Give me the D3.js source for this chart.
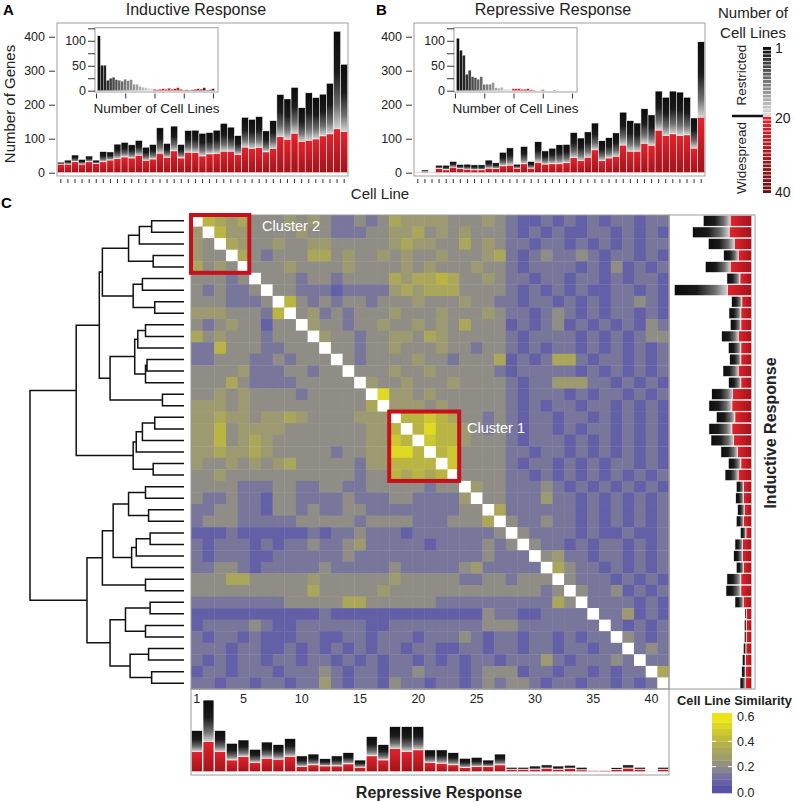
<!DOCTYPE html>
<html><head><meta charset="utf-8">
<script src="https://cdn.jsdelivr.net/npm/d3@7"></script>
<style>body{margin:0;background:#fff}</style>
</head><body>
<script>
// ---------------- DATA ----------------
const cellLines = d3.range(1, 42);
// Panel A (inductive), sorted cell lines: total genes and widespread (red) part
const indTotal = [31,37,52,39,49,37,62,61,84,89,82,95,75,83,132,86,137,83,124,125,116,118,125,145,134,109,163,157,165,123,153,230,217,251,191,235,221,231,263,416,319];
const indWide  = [25,25,32,25,32,27,32,37,41,46,43,51,36,40,57,45,64,43,60,59,49,55,56,63,63,53,75,71,74,61,71,106,98,116,92,95,99,108,114,129,121];
// Panel B (repressive)
const repTotal = [2,8,2,22,22,33,24,25,23,23,37,29,60,73,25,77,33,91,64,72,82,83,118,102,120,146,94,103,117,178,153,146,188,170,240,222,240,237,222,161,385];
const repWide  = [1,2,1,12,8,16,12,10,8,8,13,12,20,22,13,26,13,30,25,26,26,29,44,35,45,67,35,43,48,81,63,63,86,80,125,109,114,109,111,72,163];
// Insets: number of genes by number of cell lines (1..40)
const indHist = [110,51,51,21,25,27,22,21,19,23,20,22,13,13,9,7,6,5,5,3,2,3,4,3,5,3,4,6,3,1,2,1,2,3,4,3,6,1,2,4];
const repHist = [105,81,71,33,41,28,26,23,28,13,13,13,16,6,5,7,3,3,3,4,4,4,3,3,4,2,1,0,0,2,0,0,0,1,0,0,0,0,0,0];
// Panel C side bars (clustered order)
const rowIndTotal = [258,315,231,149,247,132,412,107,121,114,160,124,117,153,123,213,228,188,228,217,164,124,142,82,85,75,82,60,89,96,82,132,137,89,36,39,39,44,50,53,62];
const rowIndWide  = [114,119,92,71,114,62,128,52,57,57,71,57,57,71,57,101,105,89,105,96,75,57,71,43,43,39,43,30,48,48,43,57,57,44,28,28,28,30,32,32,34];
const colRepTotal = [219,382,219,151,169,119,158,144,176,84,94,69,84,101,62,187,144,240,240,240,116,116,101,71,76,62,94,23,23,30,36,30,34,23,5,9,21,36,23,2,23];
const colRepWide  = [107,160,107,62,80,48,71,66,80,27,36,30,30,41,23,84,62,123,107,116,48,44,36,21,27,27,36,12,12,12,18,12,16,9,3,5,11,18,12,1,12];
// ticks
const mainTicks = [0,100,200,300,400];
const insetTicks = [0,25,50,75,100,125];
const insetLabels = [0,50,100];
const insetXTicks = [0,10,20,30,40];
const colTickLabels = [1,5,10,15,20,25,30,35,40];
const simTicks = [0.0,0.2,0.4,0.6];
const legendLabels = [1,20,40];
// Similarity matrix, digit d => d/15. Upper triangle: row i, cols i+1..41
const simUpper = [
"65453 33434 32232 35444 43334 32112 12121 22122",
"64433 33433 22233 44534 34333 21212 11221 2121",
"54334 33443 33334 54433 53432 21221 21212 122",
"53233 35534 33434 33433 34521 23223 21221 21",
"33343 33343 33343 43334 33212 22212 13121 2",
"33323 32333 35455 65334 32212 21221 21221",
"33222 12222 45455 53333 21212 12112 2121",
"63232 33233 34333 43322 12212 12122 321",
"34232 33343 33433 34322 12321 21221 21",
"43323 34334 34353 33121 23121 21213 2",
"43323 34435 43333 32122 22121 21233",
"33233 43334 33233 21212 21212 1212",
"32333 34332 33351 21255 21221 212",
"33343 34333 33212 22221 21212 12",
"43343 33433 33212 24442 21212 1",
"84434 33333 32122 21212 21212",
"44434 33333 21212 21221 2121",
"66765 33232 12212 21212 121",
"68664 32321 22121 22121 21",
"76643 33212 22121 21212 1",
"67333 32212 21212 12121",
"73333 21221 21212 2121",
"33332 21212 12121 212",
"43322 23212 12121 21",
"33222 42212 12121 2",
"52222 22121 21212",
"32232 21212 1212",
"32222 12112 112",
"32212 12212 12",
"34221 22121 2",
"53221 21212",
"32221 2121",
"32231 212",
"22221 21",
"22412 1",
"21212",
"3212",
"232",
"22",
"5"
].map(s => s.replace(/ /g, ''));
// Lower triangle: row i (2..41), cols 1..i-1
const simLower = [
"4",
"43",
"433",
"5343",
"33323",
"32322 3",
"33322 23",
"44433 326",
"32343 3133",
"53433 32333",
"22633 32233 3",
"22333 22323 33",
"33334 22233 233",
"33353 22223 3333",
"33434 33332 33333",
"44434 33333 33333 5",
"44544 34454 33334 44",
"44634 44433 33333 446",
"44634 54333 33333 4476",
"44544 54333 33233 44886",
"43343 43453 33332 44666 6",
"33433 33333 33332 33656 56",
"33332 22332 23322 33333 233",
"32232 21332 22232 22332 2224",
"22332 21332 32233 22222 22233",
"23332 22223 33332 33332 22333 5",
"11121 11111 21223 22212 22222 23",
"21222 12122 32234 22222 12222 323",
"21222 11222 22232 22222 22222 3222",
"22332 12222 23222 22322 22234 22222",
"33355 33333 43333 33433 33322 33233 3",
"33333 33333 53333 34333 33333 33333 23",
"22222 22233 33355 33333 32222 22222 253",
"11111 11111 12111 11111 11111 32211 2222",
"12222 32112 22222 11222 22222 33322 22222",
"21221 21112 21122 12221 22232 12212 21212 2",
"22212 21121 21212 12212 21122 12212 21221 22",
"21212 21221 22121 21221 21212 21222 42122 232",
"12212 22122 23212 21223 22212 33312 21221 2122",
"22122 12212 24212 21322 12212 32332 12212 21212"
].map(s => s.replace(/ /g, ''));
// Dendrogram: [height, left, right], leaves = row numbers
const tree = [1.00,
 [0.70,
  [0.55,
   [0.53,
    [0.36, [0.29, [0.21, 1, 2], 3], [0.20, 4, 5]],
    [0.33, [0.27, 6, 7], [0.19, 8, 9]]],
   [0.48,
    [0.32, [0.30, [0.25, 10, 11], 12], [0.25, [0.24, 13, 14], 15]],
    [0.14, 16, 17]]],
  [0.33, [0.31, [0.27, [0.19, 18, 19], 20], 21], [0.20, 22, 23]]],
 [0.63,
  [0.53,
   [0.46,
    [0.36, [0.25, 24, 25], [0.23, 26, 27]],
    [0.34, [0.31, [0.22, 28, 29], 30], 31]],
   [0.25, 32, 33]],
  [0.48,
   [0.38, [0.22, 34, 35], [0.25, 36, 37]],
   [0.35, [0.23, 38, 39], [0.21, 40, 41]]]]];
const clusters = [{name: "Cluster 2", from: 1, to: 5}, {name: "Cluster 1", from: 18, to: 23}];

// ---------------- DRAWING ----------------
const FONT = '"Liberation Sans", Arial, Helvetica, sans-serif';
const svg = d3.select('body').append('svg').attr('width', 795).attr('height', 802)
  .style('font-family', FONT);
const defs = svg.append('defs');
function grad(id, horiz, stops) {
  const g = defs.append('linearGradient').attr('id', id)
    .attr('x1', 0).attr('y1', 0).attr('x2', horiz ? 1 : 0).attr('y2', horiz ? 0 : 1);
  stops.forEach(([o, c]) => g.append('stop').attr('offset', o).attr('stop-color', c));
}
const greyStops = [[0, '#0c0c0c'], [0.42, '#1b1b1b'], [0.76, '#6e6e6e'], [1, '#d6d6d6']];
const redStops = [[0, '#e2232c'], [1, '#a2131b']];
grad('gV', false, greyStops); grad('rV', false, redStops);
grad('gH', true, greyStops); grad('rH', true, redStops);

function lineColor(n) {
  return n <= 19 ? d3.interpolateRgb('#101010', '#d9d9d9')((n - 1) / 18)
                 : d3.interpolateRgb('#e4202a', '#6a0f10')((n - 20) / 20);
}
function styleAxis(g, size) {
  g.attr('font-size', null).attr('font-family', null);
  g.select('.domain').remove();
  g.selectAll('line').attr('stroke', '#333');
  g.selectAll('text').attr('font-size', size).attr('fill', '#222');
}

function mainPanel(left, totals, wides, hist, insetLeft, title) {
  const g = svg.append('g');
  const x = d3.scaleBand().domain(cellLines).range([left + 0.3, left + 290.7]);
  const y = d3.scaleLinear().domain([0, 400]).range([172.7, 36.7]);
  cellLines.forEach((c, i) => {
    g.append('rect').attr('x', x(c)).attr('y', y(totals[i])).attr('width', x.bandwidth())
      .attr('height', Math.max(0, y(wides[i]) - y(totals[i]))).attr('fill', 'url(#gV)')
      .attr('stroke', '#fff').attr('stroke-width', 0.5);
    g.append('rect').attr('x', x(c)).attr('y', y(wides[i])).attr('width', x.bandwidth())
      .attr('height', y(0) - y(wides[i])).attr('fill', 'url(#rV)')
      .attr('stroke', '#fff').attr('stroke-width', 0.5);
  });
  g.append('rect').attr('x', left).attr('y', 23).attr('width', 291).attr('height', 153)
    .attr('fill', 'none').attr('stroke', '#a0a0a0');
  const ya = g.append('g').attr('transform', `translate(${left - 2},0)`)
    .call(d3.axisLeft(y).tickValues(mainTicks).tickSize(6).tickPadding(4));
  styleAxis(ya, 12.5);
  const xa = g.append('g').attr('transform', 'translate(0,179)')
    .call(d3.axisBottom(x).tickSize(4).tickFormat(''));
  styleAxis(xa, 10);

  // inset
  const ix = d3.scaleLinear().domain([0, 40]).range([insetLeft + 1, insetLeft + 118]);
  const iy = d3.scaleLinear().domain([0, 125]).range([90.7, 28.3]);
  g.append('rect').attr('x', insetLeft).attr('y', 27.7).attr('width', 123).attr('height', 64.3)
    .attr('fill', '#fff').attr('stroke', '#a0a0a0');
  const bw = ix(1) - ix(0);
  hist.forEach((v, i) => {
    const n = i + 1;
    g.append('rect').attr('x', ix(n) - bw / 2).attr('y', iy(v)).attr('width', bw)
      .attr('height', iy(0) - iy(v)).attr('fill', lineColor(n))
      .attr('stroke', '#fff').attr('stroke-width', 0.3);
  });
  const iya = g.append('g').attr('transform', `translate(${insetLeft},0)`)
    .call(d3.axisLeft(iy).tickValues(insetTicks).tickSize(7).tickPadding(2)
      .tickFormat(v => insetLabels.includes(v) ? v : ''));
  styleAxis(iya, 12.5);
  const ixa = g.append('g').attr('transform', 'translate(0,93.5)')
    .call(d3.axisBottom(ix).tickValues(insetXTicks).tickSize(5).tickFormat(''));
  styleAxis(ixa, 10);
  g.append('text').attr('x', insetLeft + 61.5).attr('y', 112.5).attr('text-anchor', 'middle')
    .attr('font-size', 13.5).attr('fill', '#222').text('Number of Cell Lines');
  g.append('text').attr('x', left + 139).attr('y', 15).attr('text-anchor', 'middle')
    .attr('font-size', 16).attr('fill', '#222').text(title);
}
mainPanel(57, indTotal, indWide, indHist, 95, 'Inductive Response');
mainPanel(414, repTotal, repWide, repHist, 454, 'Repressive Response');
svg.append('text').attr('x', 3).attr('y', 15).attr('font-size', 15).attr('font-weight', 'bold').text('A');
svg.append('text').attr('x', 376).attr('y', 15).attr('font-size', 15).attr('font-weight', 'bold').text('B');
svg.append('text').attr('x', 1).attr('y', 208).attr('font-size', 15).attr('font-weight', 'bold').text('C');
svg.append('text').attr('transform', 'translate(15,104) rotate(-90)').attr('text-anchor', 'middle')
  .attr('font-size', 15).attr('fill', '#222').text('Number of Genes');
svg.append('text').attr('x', 380).attr('y', 199).attr('text-anchor', 'middle')
  .attr('font-size', 15).attr('fill', '#222').text('Cell Line');

// legend: number of cell lines
const ly = d3.scaleBand().domain(d3.range(1, 41)).range([47, 193]).paddingInner(0.22);
d3.range(1, 41).forEach(n => {
  svg.append('rect').attr('x', 763).attr('y', ly(n)).attr('width', 8).attr('height', ly.bandwidth())
    .attr('fill', lineColor(n));
});
legendLabels.forEach(n => svg.append('text').attr('x', 775).attr('y', ly(n) + ly.bandwidth() / 2)
  .attr('dy', '0.36em').attr('font-size', 14).attr('fill', '#222').text(n));
svg.append('line').attr('x1', 732).attr('x2', 763).attr('y1', 116).attr('y2', 116)
  .attr('stroke', '#111').attr('stroke-width', 2.5);
svg.append('text').attr('x', 753).attr('y', 18).attr('text-anchor', 'middle').attr('font-size', 15)
  .attr('fill', '#222').text('Number of');
svg.append('text').attr('x', 753).attr('y', 38).attr('text-anchor', 'middle').attr('font-size', 15)
  .attr('fill', '#222').text('Cell Lines');
svg.append('text').attr('transform', 'translate(745.5,75) rotate(-90)').attr('text-anchor', 'middle')
  .attr('font-size', 13.5).attr('fill', '#222').text('Restricted');
svg.append('text').attr('transform', 'translate(745.5,158) rotate(-90)').attr('text-anchor', 'middle')
  .attr('font-size', 13.5).attr('fill', '#222').text('Widespread');

// ---------------- PANEL C ----------------
const hx = d3.scaleBand().domain(cellLines).range([191, 669]);
const hy = d3.scaleBand().domain(cellLines).range([215, 689]);
const simColor = d3.scaleLinear().domain([0, 0.1, 0.2, 0.3, 0.4, 0.5, 0.6])
  .range(['#514bab', '#6d6aa6', '#8f8d86', '#a4a166', '#bab443', '#d6d02a', '#f2ea12']).clamp(true);
function sim(i, j) {
  if (i < j) return +simUpper[i - 1][j - i - 1] / 15;
  return +simLower[i - 2][j - 1] / 15;
}
const hm = svg.append('g');
cellLines.forEach(i => cellLines.forEach(j => {
  hm.append('rect').attr('x', hx(j)).attr('y', hy(i))
    .attr('width', hx.bandwidth() + 0.4).attr('height', hy.bandwidth() + 0.4)
    .attr('fill', i === j ? '#fff' : simColor(sim(i, j)));
}));
hm.append('rect').attr('x', 191).attr('y', 215).attr('width', 478).attr('height', 474)
  .attr('fill', 'none').attr('stroke', '#9a9a9a');
clusters.forEach(c => {
  hm.append('rect').attr('x', hx(c.from)).attr('y', hy(c.from))
    .attr('width', hx(c.to) + hx.bandwidth() - hx(c.from))
    .attr('height', hy(c.to) + hy.bandwidth() - hy(c.from))
    .attr('fill', 'none').attr('stroke', '#c8101c').attr('stroke-width', 4);
});
hm.append('text').attr('x', 262).attr('y', 231).attr('fill', '#fff').attr('font-size', 14.5).text(clusters[0].name);
hm.append('text').attr('x', 467).attr('y', 433).attr('fill', '#fff').attr('font-size', 14.5).text(clusters[1].name);

// right bars (inductive)
const rx = d3.scaleLinear().domain([0, 400]).range([751.7, 676.7]);
cellLines.forEach((r, i) => {
  const y0 = hy(r) + 0.4, h = hy.bandwidth() - 0.8;
  svg.append('rect').attr('x', rx(rowIndTotal[i])).attr('y', y0)
    .attr('width', rx(rowIndWide[i]) - rx(rowIndTotal[i])).attr('height', h)
    .attr('fill', 'url(#gH)').attr('stroke', '#fff').attr('stroke-width', 0.5);
  svg.append('rect').attr('x', rx(rowIndWide[i])).attr('y', y0)
    .attr('width', rx(0) - rx(rowIndWide[i])).attr('height', h)
    .attr('fill', 'url(#rH)').attr('stroke', '#fff').attr('stroke-width', 0.5);
});
svg.append('rect').attr('x', 669).attr('y', 215).attr('width', 86).attr('height', 474)
  .attr('fill', 'none').attr('stroke', '#9a9a9a');
svg.append('text').attr('transform', 'translate(776,433) rotate(-90)').attr('text-anchor', 'middle')
  .attr('font-size', 16).attr('font-weight', 'bold').attr('fill', '#222').text('Inductive Response');

// bottom bars (repressive)
const by = d3.scaleLinear().domain([0, 400]).range([771.7, 696.7]);
cellLines.forEach((c, i) => {
  const x0 = hx(c) + 0.4, w = hx.bandwidth() - 0.8;
  svg.append('rect').attr('x', x0).attr('y', by(colRepTotal[i])).attr('width', w)
    .attr('height', by(colRepWide[i]) - by(colRepTotal[i]))
    .attr('fill', 'url(#gV)').attr('stroke', '#fff').attr('stroke-width', 0.5);
  svg.append('rect').attr('x', x0).attr('y', by(colRepWide[i])).attr('width', w)
    .attr('height', by(0) - by(colRepWide[i]))
    .attr('fill', 'url(#rV)').attr('stroke', '#fff').attr('stroke-width', 0.5);
});
svg.append('rect').attr('x', 191).attr('y', 689).attr('width', 478).attr('height', 86)
  .attr('fill', 'none').attr('stroke', '#9a9a9a');
colTickLabels.forEach(c => svg.append('text').attr('x', hx(c) + hx.bandwidth() / 2).attr('y', 703)
  .attr('text-anchor', 'middle').attr('font-size', 12.5).attr('fill', '#222').text(c));
svg.append('text').attr('x', 439).attr('y', 798).attr('text-anchor', 'middle')
  .attr('font-size', 16).attr('font-weight', 'bold').attr('fill', '#222').text('Repressive Response');

// dendrogram
function toNode(t) { return Array.isArray(t) ? {h: t[0], children: [toNode(t[1]), toNode(t[2])]} : {leaf: t, h: 0}; }
const root = d3.hierarchy(toNode(tree));
const dx = d3.scaleLinear().domain([0, 1]).range([184, 30]);
root.eachAfter(n => {
  n.py = n.data.leaf ? hy(n.data.leaf) + hy.bandwidth() / 2 : d3.mean(n.children, c => c.py);
  n.px = dx(n.data.h);
});
let dpath = '';
root.each(n => {
  if (!n.children) return;
  const [a, b] = n.children;
  dpath += `M${a.px},${a.py}H${n.px}V${b.py}H${b.px}`;
});
svg.append('path').attr('d', dpath).attr('fill', 'none').attr('stroke', '#111').attr('stroke-width', 1.5);

// similarity colorbar
const cy = d3.scaleLinear().domain([0, 0.6]).range([792, 716]);
d3.range(0, 12).forEach(k => {
  const lo = k * 0.05, hi = lo + 0.05;
  const yTop = k === 11 ? 713 : cy(hi), yBot = k === 0 ? 793 : cy(lo);
  svg.append('rect').attr('x', 712).attr('y', yTop).attr('width', 20).attr('height', yBot - yTop + 0.3)
    .attr('fill', simColor(lo + 0.025));
});
[0.2, 0.4].forEach(v => {
  svg.append('line').attr('x1', 712).attr('x2', 716).attr('y1', cy(v)).attr('y2', cy(v)).attr('stroke', '#fff');
  svg.append('line').attr('x1', 728).attr('x2', 732).attr('y1', cy(v)).attr('y2', cy(v)).attr('stroke', '#fff');
});
simTicks.forEach(v => svg.append('text').attr('x', 737).attr('y', cy(v)).attr('dy', '0.36em')
  .attr('font-size', 12.5).attr('fill', '#222').text(v.toFixed(1)));
svg.append('text').attr('x', 677).attr('y', 705).attr('font-size', 13).attr('font-weight', 'bold')
  .attr('textLength', 115).attr('lengthAdjust', 'spacingAndGlyphs')
  .attr('fill', '#222').text('Cell Line Similarity');
</script>
</body></html>
